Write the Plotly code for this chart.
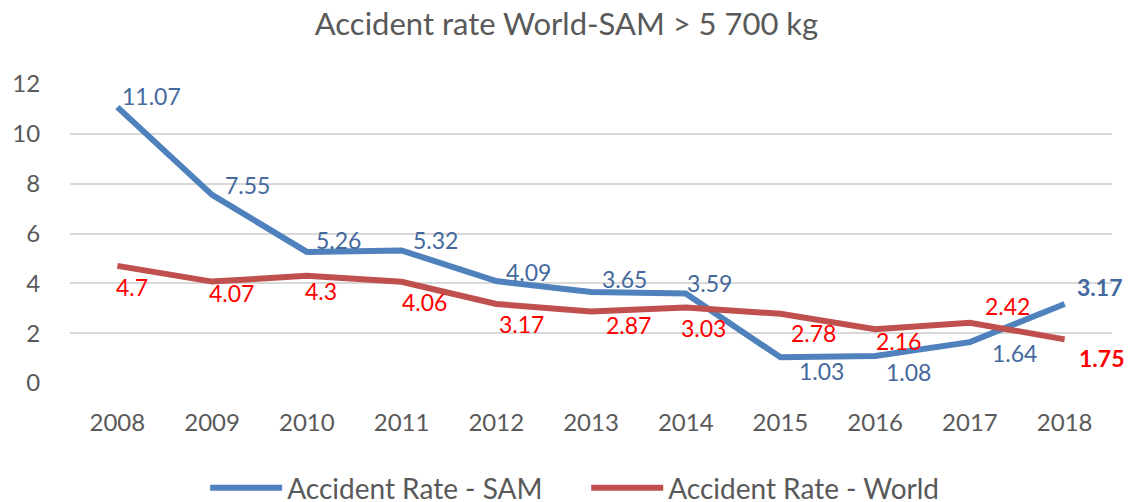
import plotly.graph_objects as go

years = ["2008", "2009", "2010", "2011", "2012", "2013", "2014", "2015", "2016", "2017", "2018"]
sam = [11.07, 7.55, 5.26, 5.32, 4.09, 3.65, 3.59, 1.03, 1.08, 1.64, 3.17]
world = [4.7, 4.07, 4.3, 4.06, 3.17, 2.87, 3.03, 2.78, 2.16, 2.42, 1.75]
sam_name = "Accident Rate - SAM"
world_name = "Accident Rate - World"
title = "Accident rate World-SAM > 5 700 kg"

# label offsets in px (dx right, dy down) from each point
sam_off = [(34, -11), (35, -10), (32, -12), (34, -10), (32, -9), (33, -13), (24, -11),
           (41, 14), (33, 16), (45, 11), (35, -17)]
world_off = [(15, 21), (19, 11), (14, 15), (23, 20), (25, 20), (37, 14), (18, 20),
             (33, 19), (23, 12), (38, -17), (37, 19)]

FONT = "Lato, 'Open Sans', sans-serif"
SAM_COLOR = "#4F81BD"
WORLD_COLOR = "#C0504D"

fig = go.Figure()
fig.add_trace(go.Scatter(x=years, y=sam, mode="lines", name=sam_name,
                         line=dict(color=SAM_COLOR, width=6)))
fig.add_trace(go.Scatter(x=years, y=world, mode="lines", name=world_name,
                         line=dict(color=WORLD_COLOR, width=6)))

annotations = []
n = len(years)
for i, v in enumerate(sam):
    dx, dy = sam_off[i]
    bold = i == n - 1
    annotations.append(dict(x=i, y=v, xref="x", yref="y", showarrow=False,
                            text=f"<b>{v:g}</b>" if bold else f"{v:g}",
                            xshift=dx, yshift=-dy,
                            font=dict(family=FONT, size=23, color="#44699E")))
for i, v in enumerate(world):
    dx, dy = world_off[i]
    bold = i == n - 1
    annotations.append(dict(x=i, y=v, xref="x", yref="y", showarrow=False,
                            text=f"<b>{v:g}</b>" if bold else f"{v:g}",
                            xshift=dx, yshift=-dy,
                            font=dict(family=FONT, size=23, color="#FF0000")))

fig.update_layout(
    width=1133, height=502,
    margin=dict(l=70, r=21, t=84, b=119),
    paper_bgcolor="white", plot_bgcolor="white",
    font=dict(family=FONT, color="#595959"),
    title=dict(text=title, x=0.5, xref="container", xanchor="center",
               y=1 - 24 / 502, yref="container", yanchor="middle",
               font=dict(family=FONT, size=31, color="#595959")),
    showlegend=True,
    legend=dict(orientation="h", xref="container", yref="container",
                x=0.5174, xanchor="center", y=1 - 488 / 502, yanchor="middle",
                itemwidth=72, entrywidth=294,
                font=dict(family=FONT, size=28, color="#595959"),
                bgcolor="rgba(0,0,0,0)"),
    annotations=annotations,
)
fig.update_xaxes(type="category", range=[-0.5, len(years) - 0.5],
                 showgrid=False, zeroline=False, showline=False,
                 ticks="outside", ticklen=18, tickcolor="rgba(0,0,0,0)",
                 tickfont=dict(family=FONT, size=24, color="#595959"))
fig.update_yaxes(range=[0, 12], dtick=2, showgrid=True, gridcolor="#D9D9D9", gridwidth=2,
                 zeroline=False, showline=False, ticks="outside", ticklen=24,
                 tickcolor="rgba(0,0,0,0)",
                 tickfont=dict(family=FONT, size=24, color="#595959"))

fig.write_html("out.html", config={"displayModeBar": False},
               post_script="document.body.style.margin='0';")
